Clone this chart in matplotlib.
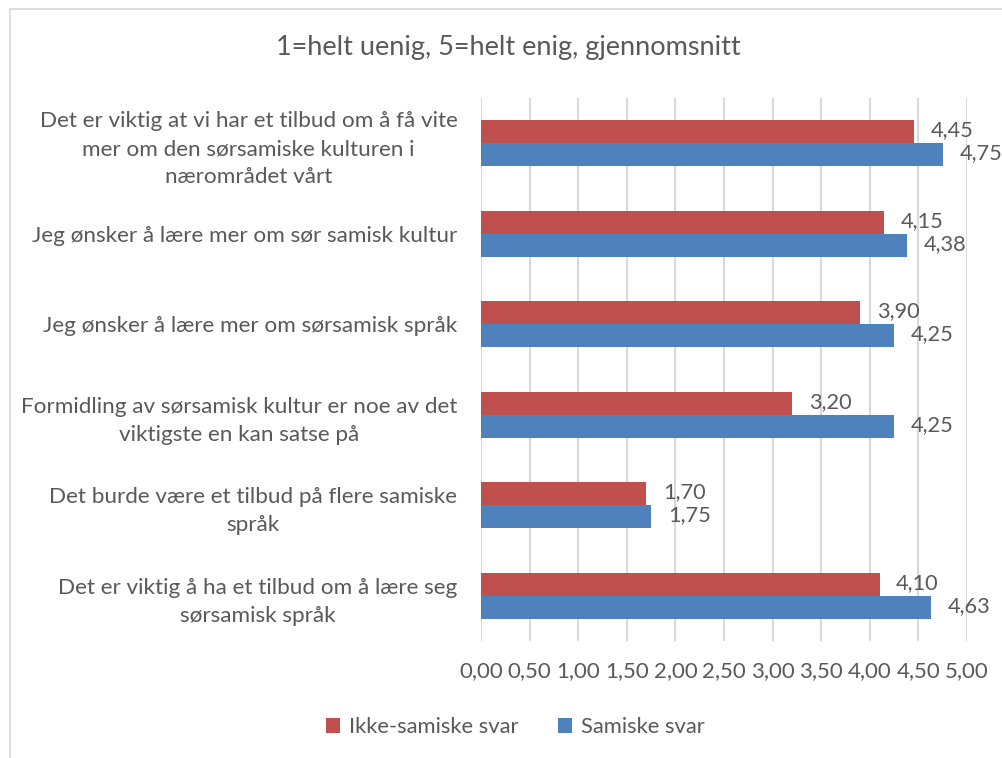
import matplotlib
matplotlib.use("Agg")
import matplotlib.pyplot as plt
from matplotlib.patches import Rectangle
import numpy as np

categories = [
    "Det er viktig at vi har et tilbud om å få vite\nmer om den sørsamiske kulturen i\nnærområdet vårt",
    "Jeg ønsker å lære mer om sør samisk kultur",
    "Jeg ønsker å lære mer om sørsamisk språk",
    "Formidling av sørsamisk kultur er noe av det\nviktigste en kan satse på",
    "Det burde være et tilbud på flere samiske\nspråk",
    "Det er viktig å ha et tilbud om å lære seg\nsørsamisk språk",
]
ikke_samiske = [4.45, 4.15, 3.90, 3.20, 1.70, 4.10]
samiske = [4.75, 4.38, 4.25, 4.25, 1.75, 4.63]
series_names = ["Ikke-samiske svar", "Samiske svar"]
title = "1=helt uenig, 5=helt enig, gjennomsnitt"
x_ticks = [0.0, 0.5, 1.0, 1.5, 2.0, 2.5, 3.0, 3.5, 4.0, 4.5, 5.0]

RED = "#c0504d"
BLUE = "#4f81bd"
TXT = "#595959"
GRID = "#d9d9d9"

plt.rcParams['font.family'] = ['Lato', 'DejaVu Sans']

W, H = 1002, 758
fig = plt.figure(figsize=(W / 100, H / 100), dpi=100)

# outer chart border (only left/top visible)
fig.patches.append(Rectangle((9.5 / W, -0.1), 1.2, 1 - 9.5 / H + 0.1,
                             transform=fig.transFigure, fill=False,
                             edgecolor="#d9d9d9", linewidth=1.2))

ax = fig.add_axes([481 / W, 1 - 641.3 / H, (967 - 481) / W, (641.3 - 97.7) / H])

y = np.arange(len(categories))
h = 0.254
b1 = ax.barh(y - h / 2, ikke_samiske, height=h, color=RED, label=series_names[0])
b2 = ax.barh(y + h / 2, samiske, height=h, color=BLUE, label=series_names[1])

for bars, vals in ((b1, ikke_samiske), (b2, samiske)):
    for bar, v in zip(bars, vals):
        ax.annotate(f"{v:.2f}".replace(".", ","),
                    xy=(bar.get_width(), bar.get_y() + bar.get_height() / 2),
                    xytext=(12, 1), textcoords="offset points",
                    ha="left", va="center", fontsize=15.7, color=TXT)

ax.set_xlim(0, 5)
ax.set_ylim(len(categories) - 0.5, -0.5)
ax.set_xticks(x_ticks)
ax.set_xticklabels([f"{t:.2f}".replace(".", ",") for t in x_ticks])
ax.set_yticks(y)
ax.set_yticklabels(categories, multialignment="center", linespacing=1.5)
ax.tick_params(axis="x", length=0, pad=14, labelsize=16, labelcolor=TXT)
ax.tick_params(axis="y", length=0, pad=17, labelsize=16.2, labelcolor=TXT)
ax.xaxis.grid(True, color=GRID, linewidth=1.5)
ax.set_axisbelow(True)
for s in ax.spines.values():
    s.set_visible(False)

fig.text(508 / W, 1 - 47 / H, title, ha="center", va="center",
         fontsize=19.5, color=TXT)

fig.legend(handles=[b1, b2], labels=series_names, loc="center",
           bbox_to_anchor=(515 / W, 1 - 727 / H), ncol=2, frameon=False,
           fontsize=15.8, labelcolor=TXT, handlelength=0.65, handleheight=0.65,
           handletextpad=0.4, columnspacing=1.8)

fig.savefig("out.png", dpi=100)
